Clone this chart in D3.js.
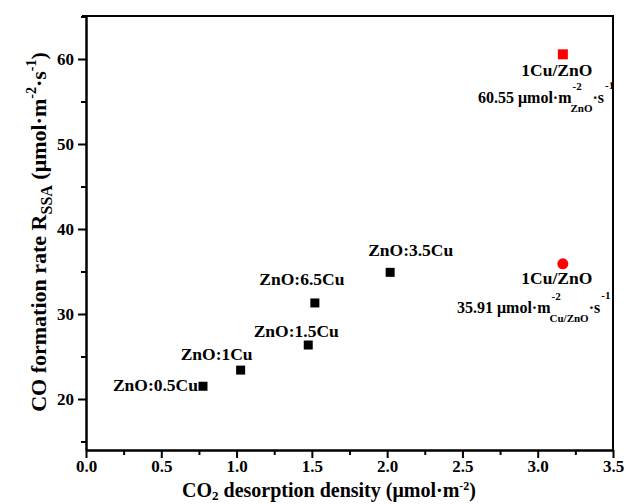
<!DOCTYPE html>
<html>
<head>
<meta charset="utf-8">
<script src="https://cdn.jsdelivr.net/npm/d3@7"></script>
<style>
  html, body { margin: 0; padding: 0; background: #fff; }
  svg text { font-family: "Liberation Serif", "Times New Roman", serif; font-weight: bold; fill: #000; }
</style>
</head>
<body>
<svg id="chart" width="626" height="504"></svg>
<script>
// ZnO:xCu samples
const sampleNames = ["ZnO:0.5Cu", "ZnO:1Cu", "ZnO:1.5Cu", "ZnO:6.5Cu", "ZnO:3.5Cu"];
const sampleDensity = [0.777, 1.027, 1.476, 1.52, 2.02];
const sampleRate = [21.5, 23.4, 26.35, 31.3, 34.9];

// 1Cu/ZnO reference, normalised by ZnO area and by Cu/ZnO area
const refName = "1Cu/ZnO";
const refDensity = [3.167, 3.167];
const refRate = [60.55, 35.91];
const refBasis = ["ZnO", "Cu/ZnO"];

const xTicks = [0, 0.5, 1.0, 1.5, 2.0, 2.5, 3.0, 3.5];
const yTicks = [20, 30, 40, 50, 60];

const svg = d3.select("#chart");
const mLeft = 86, mRight = 613, mTop = 16, mBottom = 450;

const x = d3.scaleLinear().domain([0, 3.5]).range([mLeft, mRight]);
const y = d3.scaleLinear().domain([14, 65]).range([mBottom, mTop + 0.5]);

// axes with outward major and minor ticks
const xMinor = d3.range(0.25, 3.5, 0.5);
const yMinor = [15, 25, 35, 45, 55, 65];

const gx = svg.append("g").attr("transform", `translate(0,${mBottom})`);
gx.call(d3.axisBottom(x).tickValues(xTicks).tickFormat(d3.format(".1f")).tickSize(8).tickSizeOuter(0).tickPadding(2));
gx.append("g").call(d3.axisBottom(x).tickValues(xMinor).tickFormat("").tickSize(5).tickSizeOuter(0));
gx.selectAll("path.domain").attr("stroke-width", 2);
gx.selectAll("line").attr("stroke-width", 2);
gx.selectAll("text").style("font-size", "17px");

const gy = svg.append("g").attr("transform", `translate(${mLeft},0)`);
gy.call(d3.axisLeft(y).tickValues(yTicks).tickSize(8).tickSizeOuter(0).tickPadding(4));
gy.append("g").call(d3.axisLeft(y).tickValues(yMinor).tickFormat("").tickSize(5).tickSizeOuter(0));
gy.selectAll("path.domain").attr("stroke-width", 2);
gy.selectAll("line").attr("stroke-width", 2);
gy.selectAll("text").style("font-size", "17px");

// frame top and right
svg.append("line").attr("x1", mLeft - 4).attr("x2", mRight + 1).attr("y1", mTop).attr("y2", mTop)
  .attr("stroke", "#000").attr("stroke-width", 2);
svg.append("line").attr("x1", mRight).attr("x2", mRight).attr("y1", mTop).attr("y2", mBottom)
  .attr("stroke", "#000").attr("stroke-width", 2);

// sample markers
const sq = 9;
svg.append("g").selectAll("rect").data(sampleNames).join("rect")
  .attr("x", (d, i) => x(sampleDensity[i]) - sq / 2)
  .attr("y", (d, i) => y(sampleRate[i]) - sq / 2)
  .attr("width", sq).attr("height", sq).attr("fill", "#000");

// sample labels: offsets from the marker
const labelOffsets = [[-5, 5, "end"], [-24, -10, "middle"], [-12, -8, "middle"], [-13, -18, "middle"], [-22, -16, "start"]];
svg.append("g").selectAll("text").data(sampleNames).join("text")
  .attr("x", (d, i) => x(sampleDensity[i]) + labelOffsets[i][0])
  .attr("y", (d, i) => y(sampleRate[i]) + labelOffsets[i][1])
  .attr("text-anchor", (d, i) => labelOffsets[i][2])
  .style("font-size", "17.5px")
  .text(d => d);

// reference markers
svg.append("rect")
  .attr("x", x(refDensity[0]) - 5).attr("y", y(refRate[0]) - 5)
  .attr("width", 10).attr("height", 10).attr("fill", "#ff0000");
svg.append("circle")
  .attr("cx", x(refDensity[1])).attr("cy", y(refRate[1])).attr("r", 5.5)
  .attr("fill", "#ff0000");

// reference labels: name, then value with unit µmol·m⁻²(basis)·s⁻¹
function refLabel(i, startX, nameDy, valueDy) {
  const cx = x(refDensity[i]) - 6;
  const cy = y(refRate[i]);
  svg.append("text").attr("x", cx).attr("y", cy + nameDy)
    .attr("text-anchor", "middle").style("font-size", "17.5px").text(refName);
  const base = cy + valueDy;
  const g = svg.append("g");
  const main = g.append("text").attr("x", startX).attr("y", base).style("font-size", "16px")
    .text(refRate[i].toFixed(2) + " μmol·m");
  const end = startX + main.node().getComputedTextLength();
  g.append("text").attr("x", end + 1).attr("y", base - 13).style("font-size", "11px").text("-2");
  const sub = g.append("text").attr("x", end - 1).attr("y", base + 9).style("font-size", "11px").text(refBasis[i]);
  const subEnd = end - 1 + sub.node().getComputedTextLength();
  const dot = g.append("text").attr("x", subEnd).attr("y", base).style("font-size", "16px").text("·s");
  const dotEnd = subEnd + dot.node().getComputedTextLength();
  g.append("text").attr("x", dotEnd + 1).attr("y", base - 14).style("font-size", "11px").text("-1");
}
refLabel(0, 478, 22, 49);
refLabel(1, 457, 20, 49);

// axis titles
const xt = svg.append("text").attr("x", 329).attr("y", 497)
  .attr("text-anchor", "middle").style("font-size", "20px");
xt.append("tspan").text("CO");
xt.append("tspan").attr("dy", 3).style("font-size", "13px").text("2");
xt.append("tspan").attr("dy", -3).text(" desorption density (μmol·m");
xt.append("tspan").attr("dy", -7).style("font-size", "12px").text("-2");
xt.append("tspan").attr("dy", 7).text(")");

const yt = svg.append("text").attr("transform", `translate(46,232) rotate(-90)`)
  .attr("text-anchor", "middle").style("font-size", "22px");
yt.append("tspan").text("CO formation rate R");
yt.append("tspan").attr("dy", 6).style("font-size", "16px").text("SSA");
yt.append("tspan").attr("dy", -6).text(" (μmol·m");
yt.append("tspan").attr("dy", -10).style("font-size", "14px").text("-2");
yt.append("tspan").attr("dy", 10).text("·s");
yt.append("tspan").attr("dy", -10).style("font-size", "14px").text("-1");
yt.append("tspan").attr("dy", 10).text(")");
</script>
</body>
</html>
